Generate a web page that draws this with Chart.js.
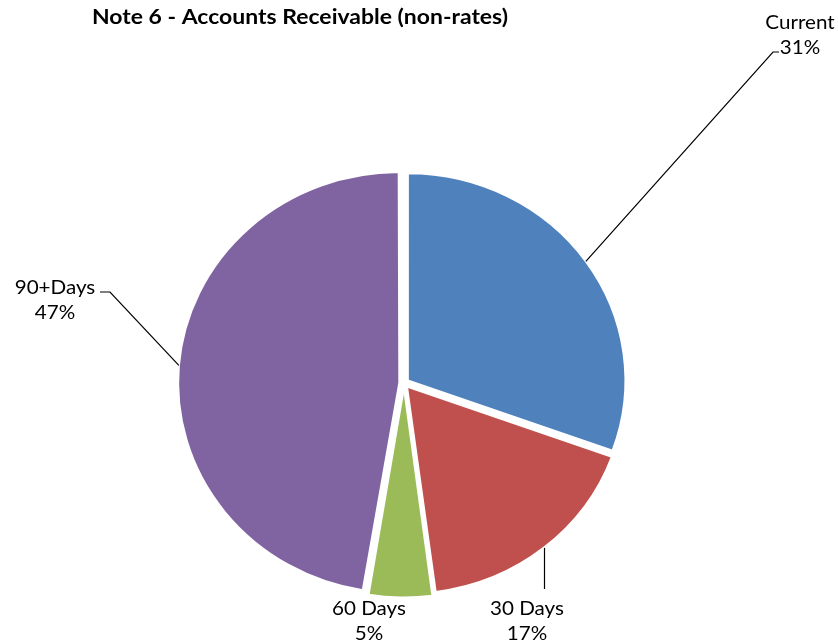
<!DOCTYPE html>
<html><head><meta charset="utf-8">
<script src="https://cdn.jsdelivr.net/npm/chart.js@4.4.0/dist/chart.umd.min.js"></script>
<style>html,body{margin:0;padding:0;background:#fff;}#wrap{width:838px;height:640px;}</style>
</head><body><div id="wrap"><canvas id="c" width="838" height="640"></canvas></div>
<script>
// ---- data ----
const categories = ['Current', '30 Days', '60 Days', '90+Days'];
const values = [30.5, 17.4, 4.7, 47.4];
const percentLabels = ['31%', '17%', '5%', '47%'];
const chartTitle = 'Note 6 - Accounts Receivable (non-rates)';

// ---- style ----
const colors = ['#4F81BD', '#C0504D', '#9BBB59', '#8064A2'];
const FONT = 'Lato, "Open Sans", sans-serif';
const SX = 1.035, SY = 0.985;   // slight horizontal stretch of the original picture
const TITLE_WIDTH = 416;
const TEXT_SX = 1.03;
const labelLayout = [
  { x: 800, y: 23, leader: [[773, 52], [779, 52]] },
  { x: 527, y: 609, leaderDownTo: 589 },
  { x: 369, y: 609 },
  { x: 55, y: 288, leader: [[110, 292], [100, 292]] }
];

function center(chart) {
  const a = chart.chartArea;
  return { cx: (a.left + a.right) / 2, cy: (a.top + a.bottom) / 2 };
}

const stretch = {
  id: 'stretch',
  beforeDatasetsDraw(chart) {
    const { cx, cy } = center(chart);
    const ctx = chart.ctx;
    ctx.save();
    ctx.translate(cx, cy);
    ctx.scale(SX, SY);
    ctx.translate(-cx, -cy);
  },
  afterDatasetsDraw(chart) { chart.ctx.restore(); }
};

function text(ctx, s, x, y, sx) {
  ctx.save();
  ctx.translate(x, y);
  ctx.scale(sx, 1);
  ctx.fillText(s, 0, 0);
  ctx.restore();
}

const labelsPlugin = {
  id: 'labelsPlugin',
  afterDraw(chart) {
    const ctx = chart.ctx;
    const { cx, cy } = center(chart);
    const meta = chart.getDatasetMeta(0);
    ctx.save();
    ctx.fillStyle = '#000';
    ctx.textAlign = 'center';
    ctx.textBaseline = 'middle';
    ctx.font = 'bold 20px ' + FONT;
    const tw = ctx.measureText(chartTitle).width;
    text(ctx, chartTitle, 300, 18, TITLE_WIDTH / tw);

    ctx.font = '20px ' + FONT;
    ctx.strokeStyle = '#000';
    ctx.lineWidth = 1.2;
    meta.data.forEach((arc, i) => {
      const p = arc.getProps(['x', 'y', 'startAngle', 'endAngle', 'outerRadius', 'circumference'], true);
      const mid = (p.startAngle + p.endAngle) / 2;
      const off = (arc.options.offset || 0) / 4;
      const fix = 1 - Math.sin(Math.min(Math.PI, p.circumference));
      const r = p.outerRadius + off + off * fix;
      let ex = p.x + Math.cos(mid) * r;
      let ey = p.y + Math.sin(mid) * r;
      ex = cx + (ex - cx) * SX;
      ey = cy + (ey - cy) * SY;
      const L = labelLayout[i];
      if (L.leader) {
        ctx.beginPath();
        ctx.moveTo(ex, ey);
        L.leader.forEach(pt => ctx.lineTo(pt[0], pt[1]));
        ctx.stroke();
      } else if (L.leaderDownTo) {
        ctx.beginPath();
        ctx.moveTo(Math.round(ex) + 0.5, ey);
        ctx.lineTo(Math.round(ex) + 0.5, L.leaderDownTo);
        ctx.stroke();
      }
      text(ctx, categories[i], L.x, L.y, TEXT_SX);
      text(ctx, percentLabels[i], L.x, L.y + 25, TEXT_SX);
    });
    ctx.restore();
  }
};

new Chart(document.getElementById('c'), {
  type: 'pie',
  data: {
    labels: categories,
    datasets: [{
      data: values,
      backgroundColor: colors,
      borderColor: '#ffffff',
      borderWidth: 2,
      offset: 18
    }]
  },
  options: {
    responsive: false,
    animation: false,
    radius: 210,
    layout: { padding: { left: 0, right: 30, top: 150, bottom: 24 } },
    plugins: { legend: { display: false }, tooltip: { enabled: false }, title: { display: false } }
  },
  plugins: [stretch, labelsPlugin]
});
</script>
</body></html>
